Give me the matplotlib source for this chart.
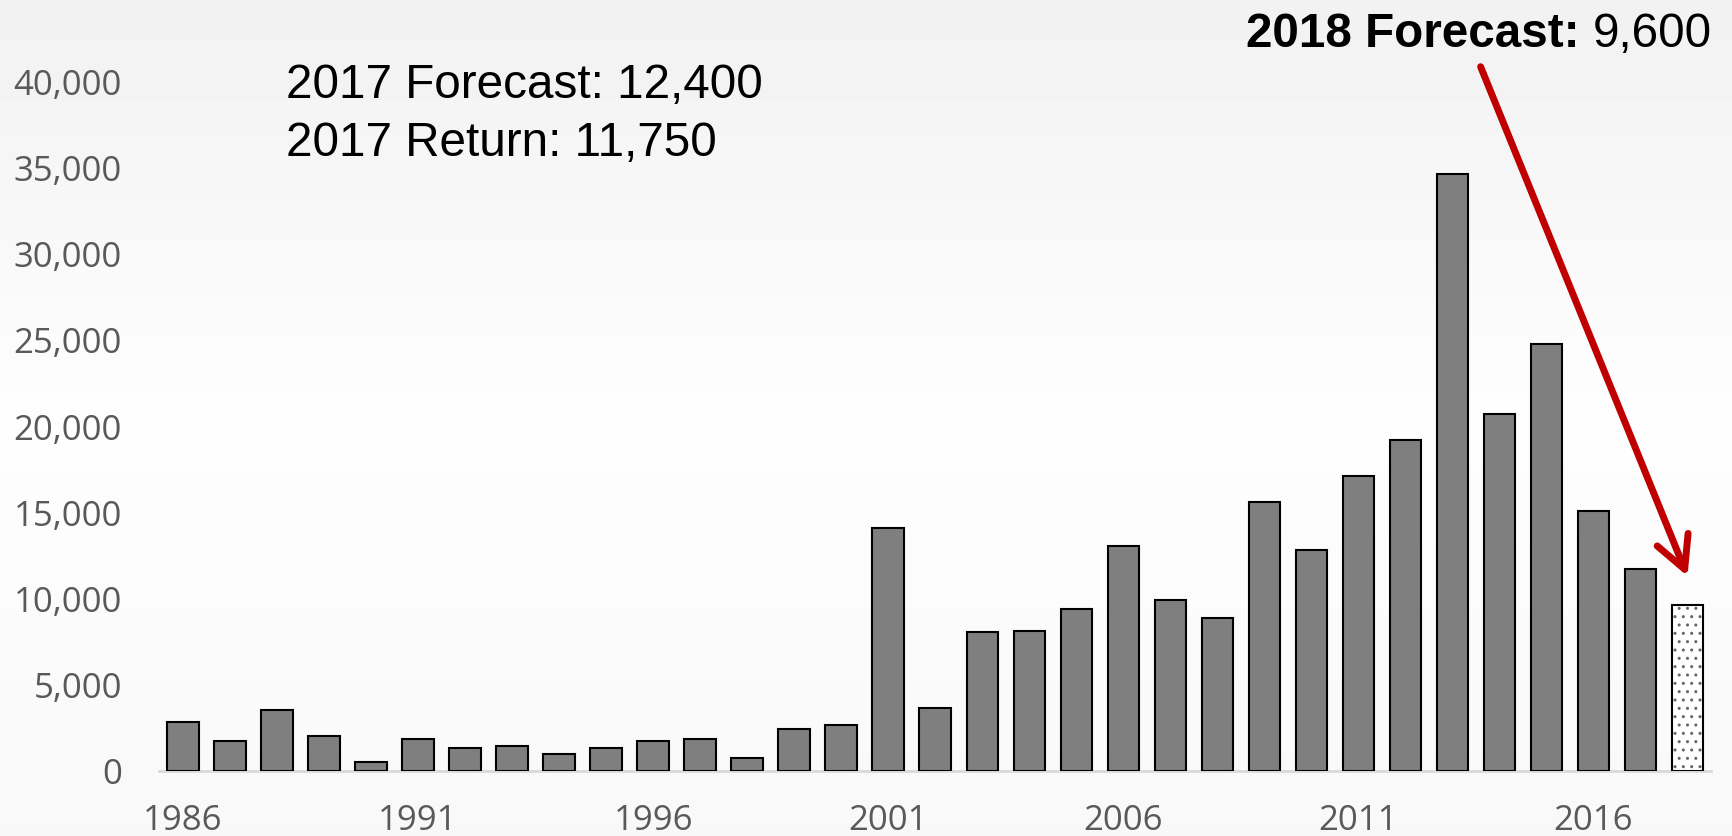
import numpy as np
import matplotlib
matplotlib.use("Agg")
import matplotlib.pyplot as plt
from matplotlib.patches import ArrowStyle

# values
years = list(range(1986, 2019))
returns = [
    2850, 1750, 3550, 2000, 500, 1850, 1300, 1450, 970, 1300,
    1750, 1830, 710, 2430, 2630, 14100, 3640, 8050, 8120, 9370,
    13050, 9900, 8900, 15600, 12850, 17150, 19200, 34650, 20700, 24800,
    15100, 11700,
]
forecast_2018 = 9600
ytick_values = [0, 5000, 10000, 15000, 20000, 25000, 30000, 35000, 40000]
xtick_years = [1986, 1991, 1996, 2001, 2006, 2011, 2016]

W, H = 1733, 836
fig = plt.figure(figsize=(W / 100, H / 100), dpi=100)

# light vertical gradient behind everything
bg = fig.add_axes([0, 0, 1, 1], zorder=-1)
grad_y = np.linspace(0, 1, 200)
shade = np.interp(grad_y, [0, 0.5, 1], [0.945, 0.995, 0.972])
bg.imshow(shade[:, None], cmap="gray", vmin=0, vmax=1, aspect="auto",
          extent=[0, 1, 1, 0])
bg.axis("off")

ax = fig.add_axes([159.5 / W, (H - 770.7) / H, (1711 - 159.5) / W,
                   (770.7 - 82.3) / H])
ax.set_facecolor("none")

x = np.arange(len(years))
ax.bar(x[:-1], returns, width=0.67, color="#7f7f7f", edgecolor="black",
       linewidth=1.5, zorder=3)
# forecast bar: dotted fill, black outline
ax.bar(x[-1], forecast_2018, width=0.67, color="white", edgecolor="#666666",
       hatch="..", linewidth=0, zorder=3)
ax.bar(x[-1], forecast_2018, width=0.67, color="none", edgecolor="black",
       linewidth=1.5, zorder=4)

ax.set_xlim(-0.5, len(years) - 0.5)
ax.set_ylim(0, 40000)
ax.set_yticks(ytick_values)
ax.set_yticklabels([f"{v:,}" for v in ytick_values])
ax.set_xticks([years.index(y) for y in xtick_years])
ax.set_xticklabels([str(y) for y in xtick_years])

for side in ["top", "right", "left"]:
    ax.spines[side].set_visible(False)
ax.spines["bottom"].set_color("#d9d9d9")
ax.spines["bottom"].set_linewidth(2)
ax.spines["bottom"].set_zorder(2)

ax.tick_params(axis="y", length=0, pad=27, labelsize=25, labelcolor="#595959")
ax.tick_params(axis="x", length=0, pad=24, labelsize=25, labelcolor="#595959")
for lab in ax.get_xticklabels() + ax.get_yticklabels():
    lab.set_family("Open Sans")

txt = dict(family="Liberation Sans", fontsize=34.3, color="black",
           va="baseline")
fig.text(286 / W, 1 - 98.3 / H, "2017 Forecast: 12,400", ha="left", **txt)
fig.text(286 / W, 1 - 156 / H, "2017 Return: 11,750", ha="left", **txt)

# bold label + plain value, right edge fixed
value_txt = fig.text(1712 / W, 1 - 46.7 / H, "9,600", ha="right", **txt)
fig.canvas.draw()
renderer = fig.canvas.get_renderer()
value_left = value_txt.get_window_extent(renderer).x0
space_w = fig.text(0, 0, "a a", **txt).get_window_extent(renderer).width
space_w -= fig.text(0, 0, "aa", **txt).get_window_extent(renderer).width
fig.texts = fig.texts[:-2]
fig.text((value_left - space_w) / W, 1 - 46.7 / H, "2018 Forecast:",
         ha="right", fontweight="bold", **txt)

ax.annotate(
    "", xy=(x[-1], forecast_2018 + 1700), xycoords="data",
    xytext=(1480.6 / W, 1 - 66.7 / H), textcoords="figure fraction",
    arrowprops=dict(
        arrowstyle=ArrowStyle("->", head_length=23, head_width=12),
        mutation_scale=1, color="#c00000", lw=5, shrinkA=0, shrinkB=0,
        capstyle="round", joinstyle="round",
    ),
    annotation_clip=False,
)

fig.savefig("out.png", dpi=100)
